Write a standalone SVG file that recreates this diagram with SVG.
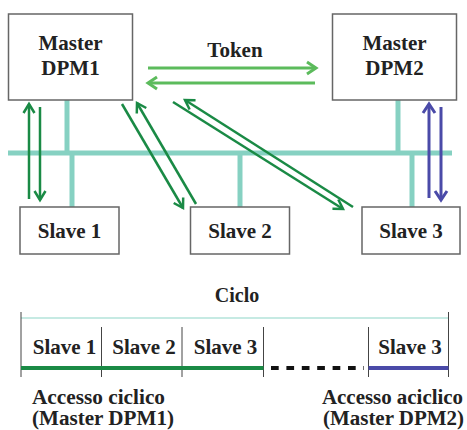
<svg xmlns="http://www.w3.org/2000/svg" width="467" height="430" viewBox="0 0 467 430">
<style>
.box{fill:#fff;stroke:#666;stroke-width:1.5}
.t{font-family:'Liberation Serif','DejaVu Serif',serif;font-weight:700;font-size:21px;fill:#222;text-anchor:middle}
.s{font-size:20px}
.st{text-anchor:start}
.bus{stroke:#86d1c2;stroke-width:5;fill:none}
.dg{stroke:#1a8a45;stroke-width:2.5;fill:none}
.lg{stroke:#5cbb5c;stroke-width:3;fill:none}
.bl{stroke:#4a4aa8;stroke-width:3;fill:none}
.tick{stroke:#444;stroke-width:1}
</style>
<defs>
<marker id="adg" markerUnits="userSpaceOnUse" markerWidth="20" markerHeight="20" viewBox="-12 -10 14 20" refX="0" refY="0" orient="auto"><path d="M-9,-5.5 L0,0 L-9,5.5" fill="none" stroke="#1a8a45" stroke-width="2.5"/></marker>
<marker id="alg" markerUnits="userSpaceOnUse" markerWidth="20" markerHeight="20" viewBox="-12 -10 14 20" refX="0" refY="0" orient="auto"><path d="M-9,-6 L0,0 L-9,6" fill="none" stroke="#5cbb5c" stroke-width="3"/></marker>
<marker id="abl" markerUnits="userSpaceOnUse" markerWidth="20" markerHeight="20" viewBox="-12 -10 14 20" refX="0" refY="0" orient="auto"><path d="M-9,-6 L0,0 L-9,6" fill="none" stroke="#4a4aa8" stroke-width="3"/></marker>
</defs>

<g id="bus">
<line class="bus" x1="8" y1="153" x2="452" y2="153"/>
<line class="bus" x1="67" y1="100" x2="67" y2="153"/>
<line class="bus" x1="72" y1="153" x2="72" y2="207"/>
<line class="bus" x1="240" y1="153" x2="240" y2="207"/>
<line class="bus" x1="398" y1="100" x2="398" y2="153"/>
<line class="bus" x1="412" y1="153" x2="412" y2="207"/>
</g>

<g id="master1"><rect class="box" x="8.5" y="14" width="124" height="86"/><text class="t" x="70.5" y="50">Master</text><text class="t" x="70.5" y="75">DPM1</text></g>
<g id="master2"><rect class="box" x="332.5" y="14" width="124" height="86"/><text class="t" x="394.5" y="50">Master</text><text class="t" x="394.5" y="75">DPM2</text></g>
<g id="slave1"><rect class="box" x="20" y="207" width="99" height="47"/><text class="t" x="69.5" y="238">Slave 1</text></g>
<g id="slave2"><rect class="box" x="190.5" y="207" width="99" height="47"/><text class="t" x="240" y="238">Slave 2</text></g>
<g id="slave3"><rect class="box" x="362" y="207" width="98" height="47"/><text class="t" x="411" y="238">Slave 3</text></g>

<g id="connectors">
<line class="lg" x1="148" y1="68" x2="316" y2="68" marker-end="url(#alg)"/>
<line class="lg" x1="315" y1="83" x2="148" y2="83" marker-end="url(#alg)"/>
<text class="t" x="235" y="57">Token</text>
<line class="dg" x1="29" y1="199" x2="29" y2="104" marker-end="url(#adg)"/>
<line class="dg" x1="40" y1="107" x2="40" y2="200" marker-end="url(#adg)"/>
<line class="dg" x1="122" y1="104" x2="183" y2="208" marker-end="url(#adg)"/>
<line class="dg" x1="196" y1="204" x2="137" y2="103" marker-end="url(#adg)"/>
<line class="dg" x1="173" y1="102" x2="343" y2="209" marker-end="url(#adg)"/>
<line class="dg" x1="353" y1="207" x2="185" y2="100" marker-end="url(#adg)"/>
<line class="bl" x1="429" y1="198" x2="429" y2="104" marker-end="url(#abl)"/>
<line class="bl" x1="441" y1="107" x2="441" y2="200" marker-end="url(#abl)"/>
</g>

<g id="timeline">
<text class="t s" x="237" y="302">Ciclo</text>
<line x1="21" y1="318" x2="448" y2="318" stroke="#b3e3da" stroke-width="1.5"/>
<line class="tick" x1="21" y1="312" x2="21" y2="377"/>
<line class="tick" x1="101.5" y1="327" x2="101.5" y2="377"/>
<line class="tick" x1="182" y1="327" x2="182" y2="377"/>
<line class="tick" x1="263.5" y1="327" x2="263.5" y2="377"/>
<line class="tick" x1="368.5" y1="327" x2="368.5" y2="377"/>
<line class="tick" x1="448.5" y1="312" x2="448.5" y2="377"/>
<line x1="21" y1="368" x2="263.5" y2="368" stroke="#1a8a45" stroke-width="4"/>
<line x1="271" y1="368" x2="364" y2="368" stroke="#111" stroke-width="4" stroke-dasharray="7.7 7.7"/>
<line x1="368.5" y1="368" x2="448.5" y2="368" stroke="#4a4aa8" stroke-width="4"/>
<text class="t" x="64.5" y="354">Slave 1</text>
<text class="t" x="144" y="354">Slave 2</text>
<text class="t" x="225.5" y="354">Slave 3</text>
<text class="t" x="410" y="354">Slave 3</text>
<text class="t s st" x="32" y="404" textLength="133" lengthAdjust="spacingAndGlyphs">Accesso ciclico</text>
<text class="t s st" x="32" y="425" textLength="142" lengthAdjust="spacingAndGlyphs">(Master DPM1)</text>
<text class="t s st" x="322" y="404" textLength="141" lengthAdjust="spacingAndGlyphs">Accesso aciclico</text>
<text class="t s st" x="323" y="425" textLength="141" lengthAdjust="spacingAndGlyphs">(Master DPM2)</text>
</g>
</svg>
